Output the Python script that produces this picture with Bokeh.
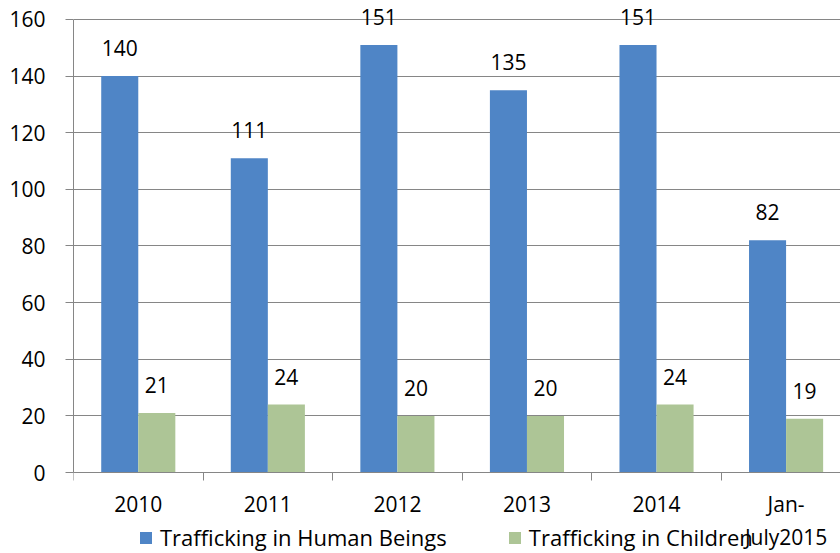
from bokeh.plotting import figure
from bokeh.models import Range1d, FixedTicker, ColumnDataSource, LabelSet, Legend, LegendItem
from bokeh.core.properties import value
from bokeh.embed import file_html
from bokeh.resources import INLINE

categories = ["2010", "2011", "2012", "2013", "2014", "Jan-\nJuly2015"]
human = [140, 111, 151, 135, 151, 82]
children = [21, 24, 20, 20, 24, 19]
series_names = ["Trafficking in Human Beings", "Trafficking in Children"]
y_ticks = [0, 20, 40, 60, 80, 100, 120, 140, 160]

BLUE = "#4F85C6"
GREEN = "#ADC596"
GRAY = "#868686"
FONT = "Open Sans"
FS = "21px"

xs = [i + 0.5 for i in range(len(categories))]
bw = 0.286
src_h = ColumnDataSource(dict(x=[x - bw / 2 for x in xs], y=human, t=[str(v) for v in human]))
src_c = ColumnDataSource(dict(x=[x + bw / 2 for x in xs], y=children, t=[str(v) for v in children]))

p = figure(width=840, height=553, output_backend="svg", toolbar_location=None,
           x_range=Range1d(0, 5.92), y_range=Range1d(-28.6, 166.7),
           min_border_left=73, min_border_right=0, min_border_top=0, min_border_bottom=0)
p.outline_line_color = None
p.background_fill_color = "white"

r1 = p.vbar(x="x", top="y", width=bw, source=src_h, fill_color=BLUE, line_color=None)
r2 = p.vbar(x="x", top="y", width=bw, source=src_c, fill_color=GREEN, line_color=None)

for src in (src_h, src_c):
    p.add_layout(LabelSet(x="x", y="y", text="t", source=src, text_align="center",
                          text_baseline="alphabetic", y_offset=20, text_font=value(FONT),
                          text_font_size=value(FS), text_color="black"))

p.xgrid.visible = False
p.ygrid.grid_line_color = GRAY
p.ygrid.ticker = FixedTicker(ticks=y_ticks)

ya = p.yaxis[0]
ya.ticker = FixedTicker(ticks=y_ticks)
ya.bounds = (0, 160)
ya.axis_line_color = GRAY
ya.major_tick_line_color = GRAY
ya.major_tick_out = 8
ya.major_tick_in = 0
ya.minor_tick_line_color = None
ya.major_label_text_font = FONT
ya.major_label_text_font_size = FS
ya.major_label_text_color = "black"
ya.major_label_standoff = 20

xa = p.xaxis[0]
xa.fixed_location = 0
xa.ticker = FixedTicker(ticks=xs, minor_ticks=list(range(len(categories) + 1)))
xa.major_label_overrides = {x: c for x, c in zip(xs, categories)}
xa.axis_line_color = GRAY
xa.major_tick_line_color = None
xa.major_tick_out = 0
xa.major_tick_in = 0
xa.minor_tick_line_color = GRAY
xa.minor_tick_out = 8
xa.minor_tick_in = 0
xa.major_label_text_font = FONT
xa.major_label_text_font_size = FS
xa.major_label_text_color = "black"
xa.major_label_standoff = 9

legend = Legend(items=[LegendItem(label=series_names[0], renderers=[r1]),
                       LegendItem(label=series_names[1], renderers=[r2])],
                orientation="horizontal", location=(65, 1), border_line_color=None,
                background_fill_alpha=0, padding=0, margin=0, spacing=60,
                glyph_width=15, glyph_height=15, label_standoff=7,
                label_text_font=FONT, label_text_font_size="22px", label_text_color="black")
p.add_layout(legend, "center")

open("out.html", "w").write(file_html(p, INLINE))
